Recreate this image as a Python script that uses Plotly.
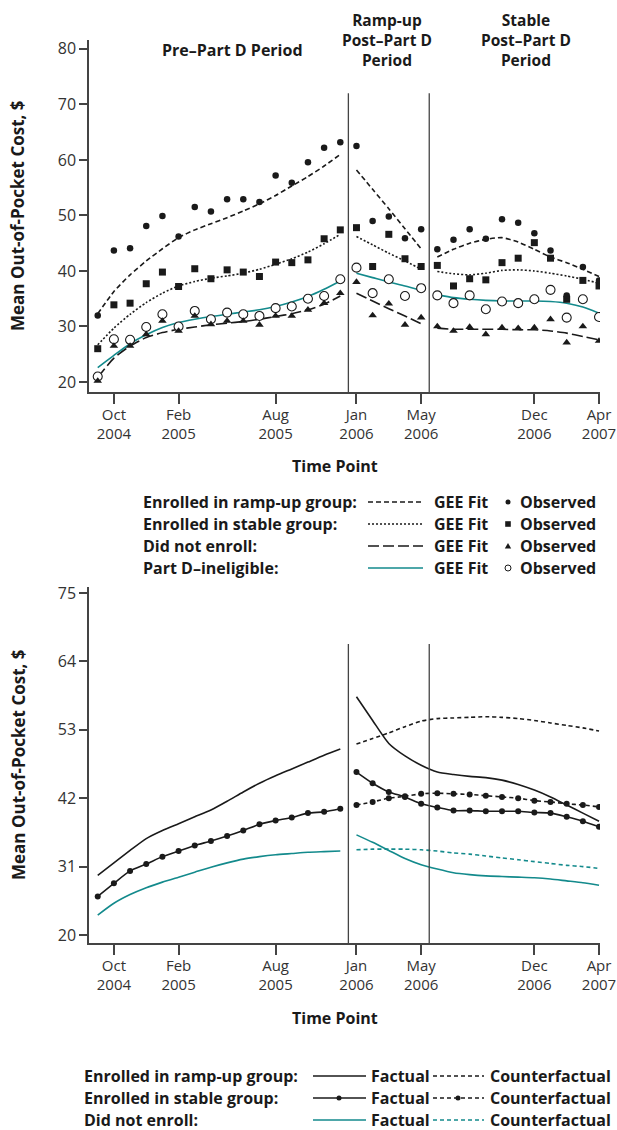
import plotly.graph_objects as go

# ---------------- data ----------------
# month index: 0 = Sep 2004 ... 31 = Apr 2007
months_all = list(range(0, 32))
months_pre = list(range(0, 16))
months_ramp = list(range(16, 21))
months_stable = list(range(21, 32))
months_post = list(range(16, 32))

tick_vals = [1, 5, 11, 16, 20, 27, 31]
tick_text = ["Oct<br>2004", "Feb<br>2005", "Aug<br>2005", "Jan<br>2006",
             "May<br>2006", "Dec<br>2006", "Apr<br>2007"]
top_yticks = [20, 30, 40, 50, 60, 70, 80]
bot_yticks = [20, 31, 42, 53, 64, 75]

# Top panel: observed means
ramp_obs = [32.0, 43.7, 44.1, 48.1, 49.9, 46.2, 51.5, 50.7, 52.9, 52.9, 52.4, 57.2, 55.9, 59.6, 62.2, 63.2,
            62.5, 49.0, 49.8, 45.9, 47.5,
            43.9, 45.6, 47.5, 45.8, 49.3, 48.7, 46.8, 43.7, 35.6, 40.7, 38.3]
stable_obs = [26.0, 33.9, 34.2, 37.7, 39.8, 37.2, 40.4, 38.6, 40.2, 39.8, 39.0, 41.6, 41.5, 42.0, 45.8, 47.4,
              47.8, 40.8, 46.6, 42.2, 40.8,
              41.0, 37.3, 38.6, 38.4, 41.5, 42.3, 45.1, 42.3, 34.9, 38.3, 37.3]
didnot_obs = [20.2, 26.5, 26.5, 28.6, 31.0, 29.2, 31.9, 30.4, 31.0, 31.0, 30.3, 31.9, 31.9, 33.0, 34.2, 36.0,
              38.0, 32.0, 34.1, 30.3, 31.6,
              30.0, 29.2, 29.9, 28.6, 29.8, 29.7, 29.8, 31.3, 27.1, 30.0, 27.4]
inelig_obs = [21.0, 27.7, 27.6, 29.9, 32.2, 30.0, 32.8, 31.3, 32.5, 32.2, 31.9, 33.3, 33.6, 35.0, 35.5, 38.5,
              40.6, 36.0, 38.5, 35.5, 36.9,
              35.6, 34.2, 35.6, 33.1, 34.5, 34.2, 34.9, 36.6, 31.6, 34.9, 31.7]

# Top panel: GEE fits, by period
ramp_fit_pre = [32.3, 36.3, 39.3, 41.8, 44.0, 46.0, 47.4, 48.5, 49.6, 50.8, 52.1, 53.6, 55.3, 57.0, 58.9, 61.0]
ramp_fit_ramp = [58.2, 54.7, 51.2, 47.6, 44.0]
ramp_fit_stable = [42.5, 43.9, 45.0, 45.7, 46.0, 45.2, 43.9, 42.5, 41.5, 40.3, 39.0]
stable_fit_pre = [26.7, 29.7, 32.2, 34.3, 36.0, 37.3, 38.1, 38.7, 39.1, 39.6, 40.3, 41.2, 42.2, 43.4, 44.9, 46.6]
stable_fit_ramp = [46.2, 44.7, 43.2, 41.8, 40.3]
stable_fit_stable = [39.9, 39.5, 39.3, 39.6, 40.1, 40.2, 40.0, 39.6, 39.1, 38.5, 37.8]
didnot_fit_pre = [20.8, 24.3, 26.5, 28.0, 28.9, 29.5, 29.9, 30.3, 30.6, 30.9, 31.3, 31.8, 32.3, 33.0, 34.0, 35.5]
didnot_fit_ramp = [36.0, 34.6, 33.2, 31.9, 30.5]
didnot_fit_stable = [29.7, 29.5, 29.5, 29.5, 29.5, 29.4, 29.4, 29.2, 28.8, 28.2, 27.6]
inelig_fit_pre = [22.6, 24.8, 26.9, 28.5, 29.8, 30.7, 31.3, 31.8, 32.2, 32.6, 33.0, 33.6, 34.4, 35.4, 36.7, 38.2]
inelig_fit_ramp = [39.6, 38.8, 38.0, 37.3, 36.5]
inelig_fit_stable = [35.7, 35.2, 34.9, 34.7, 34.6, 34.6, 34.6, 34.5, 34.2, 33.5, 32.4]

# Bottom panel: factual / counterfactual
ramp_fact_pre = [29.6, 31.6, 33.6, 35.5, 36.8, 37.9, 39.0, 40.1, 41.5, 43.0, 44.4, 45.6, 46.7, 47.8, 48.9, 49.9]
ramp_fact_post = [58.3, 54.5, 50.8, 48.8, 47.3, 46.2, 45.8, 45.5, 45.3, 44.9, 44.2, 43.3, 42.2, 40.9, 39.6, 38.3]
ramp_cf_post = [50.7, 51.6, 52.5, 53.5, 54.4, 54.8, 54.9, 55.0, 55.1, 55.0, 54.8, 54.5, 54.1, 53.7, 53.3, 52.8]
stable_fact_pre = [26.2, 28.3, 30.3, 31.4, 32.6, 33.5, 34.4, 35.1, 35.9, 36.8, 37.8, 38.4, 38.9, 39.6, 39.8, 40.3]
stable_fact_post = [46.2, 44.4, 43.0, 42.2, 41.1, 40.5, 40.0, 40.0, 39.9, 39.9, 39.9, 39.7, 39.6, 39.0, 38.3, 37.4]
stable_cf_post = [40.9, 41.4, 42.0, 42.3, 42.7, 42.8, 42.7, 42.6, 42.4, 42.2, 42.0, 41.6, 41.4, 41.1, 40.9, 40.6]
didnot_fact_pre = [23.2, 25.1, 26.5, 27.6, 28.5, 29.3, 30.1, 30.9, 31.6, 32.2, 32.6, 32.9, 33.1, 33.3, 33.4, 33.5]
didnot_fact_post = [36.1, 34.9, 33.6, 32.3, 31.3, 30.6, 30.0, 29.7, 29.5, 29.4, 29.3, 29.2, 29.0, 28.7, 28.4, 28.0]
didnot_cf_post = [33.7, 33.8, 33.8, 33.8, 33.7, 33.5, 33.2, 33.0, 32.7, 32.4, 32.1, 31.8, 31.5, 31.2, 31.0, 30.7]

period_breaks = [15.5, 20.5]

# ---------------- styling ----------------
W, H = 617, 1130
FONT = "Open Sans"
BLACK = "#1a1a1a"
AXIS = "#444444"
TEAL = "#138a8c"
DASH_SHORT = "5px,3px"
DASH_DOT = "2px,2px"
DASH_LONG = "11px,4px"


def fx(px):
    return px / W


def fy(py):
    return 1 - py / H


fig = go.Figure()


def add_line(x, y, color, dash, xa="x", ya="y", markers=False):
    fig.add_trace(go.Scatter(
        x=x, y=y, xaxis=xa, yaxis=ya,
        mode="lines+markers" if markers else "lines",
        line=dict(color=color, width=1.6, dash=dash, shape="spline", smoothing=0.6),
        marker=dict(color=color, size=6, symbol="circle"),
        showlegend=False, hoverinfo="skip"))


# top fits
for xs, ys in [(months_pre, ramp_fit_pre), (months_ramp, ramp_fit_ramp), (months_stable, ramp_fit_stable)]:
    add_line(xs, ys, BLACK, DASH_SHORT)
for xs, ys in [(months_pre, stable_fit_pre), (months_ramp, stable_fit_ramp), (months_stable, stable_fit_stable)]:
    add_line(xs, ys, BLACK, DASH_DOT)
for xs, ys in [(months_pre, didnot_fit_pre), (months_ramp, didnot_fit_ramp), (months_stable, didnot_fit_stable)]:
    add_line(xs, ys, BLACK, DASH_LONG)
for xs, ys in [(months_pre, inelig_fit_pre), (months_ramp, inelig_fit_ramp), (months_stable, inelig_fit_stable)]:
    add_line(xs, ys, TEAL, "solid")


def add_points(y, symbol, size, open_=False):
    fig.add_trace(go.Scatter(
        x=months_all, y=y, mode="markers",
        marker=dict(symbol=symbol, size=size,
                    color="white" if open_ else BLACK,
                    line=dict(color=BLACK, width=1.1 if open_ else 0)),
        showlegend=False, hoverinfo="skip"))


add_points(inelig_obs, "circle", 9, open_=True)
add_points(didnot_obs, "triangle-up", 7.5)
add_points(stable_obs, "square", 7)
add_points(ramp_obs, "circle", 6.5)

# bottom lines
add_line(months_pre, ramp_fact_pre, BLACK, "solid", "x2", "y2")
add_line(months_post, ramp_fact_post, BLACK, "solid", "x2", "y2")
add_line(months_post, ramp_cf_post, BLACK, "4px,3px", "x2", "y2")
add_line(months_pre, stable_fact_pre, BLACK, "solid", "x2", "y2", markers=True)
add_line(months_post, stable_fact_post, BLACK, "solid", "x2", "y2", markers=True)
add_line(months_post, stable_cf_post, BLACK, "4px,3px", "x2", "y2", markers=True)
add_line(months_pre, didnot_fact_pre, TEAL, "solid", "x2", "y2")
add_line(months_post, didnot_fact_post, TEAL, "solid", "x2", "y2")
add_line(months_post, didnot_cf_post, TEAL, "4px,3px", "x2", "y2")

# ---------------- axes ----------------
xr = [-0.54, 31.06]
common_x = dict(range=xr, tickmode="array", tickvals=tick_vals, ticktext=tick_text,
                showline=True, linecolor=AXIS, linewidth=1.5, ticks="outside",
                ticklen=10, tickwidth=1.5, tickcolor=AXIS, showgrid=False, zeroline=False,
                ticklabelstandoff=-2, automargin=False,
                tickfont=dict(family=FONT, size=15, color="#333333"))
common_y = dict(showline=True, linecolor=AXIS, linewidth=1.5, ticks="outside",
                ticklen=8, tickwidth=1.5, tickcolor=AXIS, showgrid=False, zeroline=False,
                tickmode="array", automargin=False,
                tickfont=dict(family=FONT, size=16, color="#333333"))

xdom = [fx(89), fx(600)]
fig.update_layout(
    width=W, height=H, autosize=False, margin=dict(l=0, r=0, t=0, b=0, autoexpand=False),
    paper_bgcolor="white", plot_bgcolor="white",
    font=dict(family=FONT, color=BLACK),
    xaxis=dict(domain=xdom, anchor="y", **common_x),
    yaxis=dict(domain=[fy(392), fy(40)], anchor="x", range=[18.2, 81.6],
               tickvals=top_yticks, **common_y),
    xaxis2=dict(domain=xdom, anchor="y2", **common_x),
    yaxis2=dict(domain=[fy(943), fy(587)], anchor="x2", range=[18.71, 75.96],
                tickvals=bot_yticks, **common_y),
)

shapes = []
for xb in period_breaks:
    shapes.append(dict(type="line", xref="x", yref="y", x0=xb, x1=xb, y0=18.2, y1=72,
                       line=dict(color=AXIS, width=1.3)))
    shapes.append(dict(type="line", xref="x2", yref="y2", x0=xb, x1=xb, y0=18.71, y1=66.8,
                       line=dict(color=AXIS, width=1.3)))

annotations = []


def txt(text, px, py, size=16, anchor="center", bold=True, angle=0):
    annotations.append(dict(text=f"<b>{text}</b>" if bold else text, xref="paper", yref="paper",
                            x=fx(px), y=fy(py), xanchor=anchor, yanchor="middle",
                            showarrow=False, textangle=angle,
                            font=dict(family=FONT, size=size, color=BLACK)))


# period titles
txt("Pre–Part D Period", 232, 50)
txt("Ramp-up<br>Post–Part D<br>Period", 387, 40, size=15.5)
txt("Stable<br>Post–Part D<br>Period", 526, 40, size=15.5)

# axis titles
txt("Mean Out-of-Pocket Cost, $", 18, 216, size=17, angle=-90)
txt("Mean Out-of-Pocket Cost, $", 18, 765, size=17, angle=-90)
txt("Time Point", 335, 466)
txt("Time Point", 335, 1018)

# top legend
top_rows = [("Enrolled in ramp-up group:", DASH_SHORT, BLACK, "dot"),
            ("Enrolled in stable group:", DASH_DOT, BLACK, "square"),
            ("Did not enroll:", DASH_LONG, BLACK, "tri"),
            ("Part D–ineligible:", "solid", TEAL, "open")]
for i, (label, dash, col, mk) in enumerate(top_rows):
    py = 502 + 22 * i
    txt(label, 141, py, anchor="left")
    shapes.append(dict(type="line", xref="paper", yref="paper", x0=fx(368), x1=fx(423),
                       y0=fy(py), y1=fy(py), line=dict(color=col, width=1.6, dash=dash)))
    txt("GEE Fit", 432, py, anchor="left")
    cx = 508
    if mk == "dot":
        shapes.append(dict(type="circle", xref="paper", yref="paper", x0=fx(cx - 2.5), x1=fx(cx + 2.5),
                           y0=fy(py + 2.5), y1=fy(py - 2.5), fillcolor=BLACK, line=dict(width=0)))
    elif mk == "square":
        shapes.append(dict(type="rect", xref="paper", yref="paper", x0=fx(cx - 2.8), x1=fx(cx + 2.8),
                           y0=fy(py + 2.8), y1=fy(py - 2.8), fillcolor=BLACK, line=dict(width=0)))
    elif mk == "tri":
        path = (f"M {fx(cx - 3.2)} {fy(py + 2.5)} L {fx(cx + 3.2)} {fy(py + 2.5)} "
                f"L {fx(cx)} {fy(py - 3.0)} Z")
        shapes.append(dict(type="path", xref="paper", yref="paper", path=path,
                           fillcolor=BLACK, line=dict(width=0)))
    else:
        shapes.append(dict(type="circle", xref="paper", yref="paper", x0=fx(cx - 3), x1=fx(cx + 3),
                           y0=fy(py + 3), y1=fy(py - 3), fillcolor="white",
                           line=dict(color=BLACK, width=1)))
    txt("Observed", 518, py, anchor="left")

# bottom legend
bot_rows = [("Enrolled in ramp-up group:", BLACK, False),
            ("Enrolled in stable group:", BLACK, True),
            ("Did not enroll:", TEAL, False)]
for i, (label, col, dots) in enumerate(bot_rows):
    py = 1076 + 22 * i
    txt(label, 82, py, anchor="left")
    shapes.append(dict(type="line", xref="paper", yref="paper", x0=fx(313), x1=fx(366),
                       y0=fy(py), y1=fy(py), line=dict(color=col, width=1.6)))
    txt("Factual", 369, py, anchor="left")
    shapes.append(dict(type="line", xref="paper", yref="paper", x0=fx(433), x1=fx(484),
                       y0=fy(py), y1=fy(py), line=dict(color=col, width=1.6, dash="4px,3px")))
    if dots:
        for cx in (339, 458):
            shapes.append(dict(type="circle", xref="paper", yref="paper", x0=fx(cx - 2.5), x1=fx(cx + 2.5),
                               y0=fy(py + 2.5), y1=fy(py - 2.5), fillcolor=BLACK, line=dict(width=0)))
    txt("Counterfactual", 488, py, anchor="left")

fig.update_layout(shapes=shapes, annotations=annotations)
fig.write_html("out.html",
               config={"displayModeBar": False, "responsive": False},
               post_script="document.body.style.margin='0';document.body.style.overflow='hidden';")
